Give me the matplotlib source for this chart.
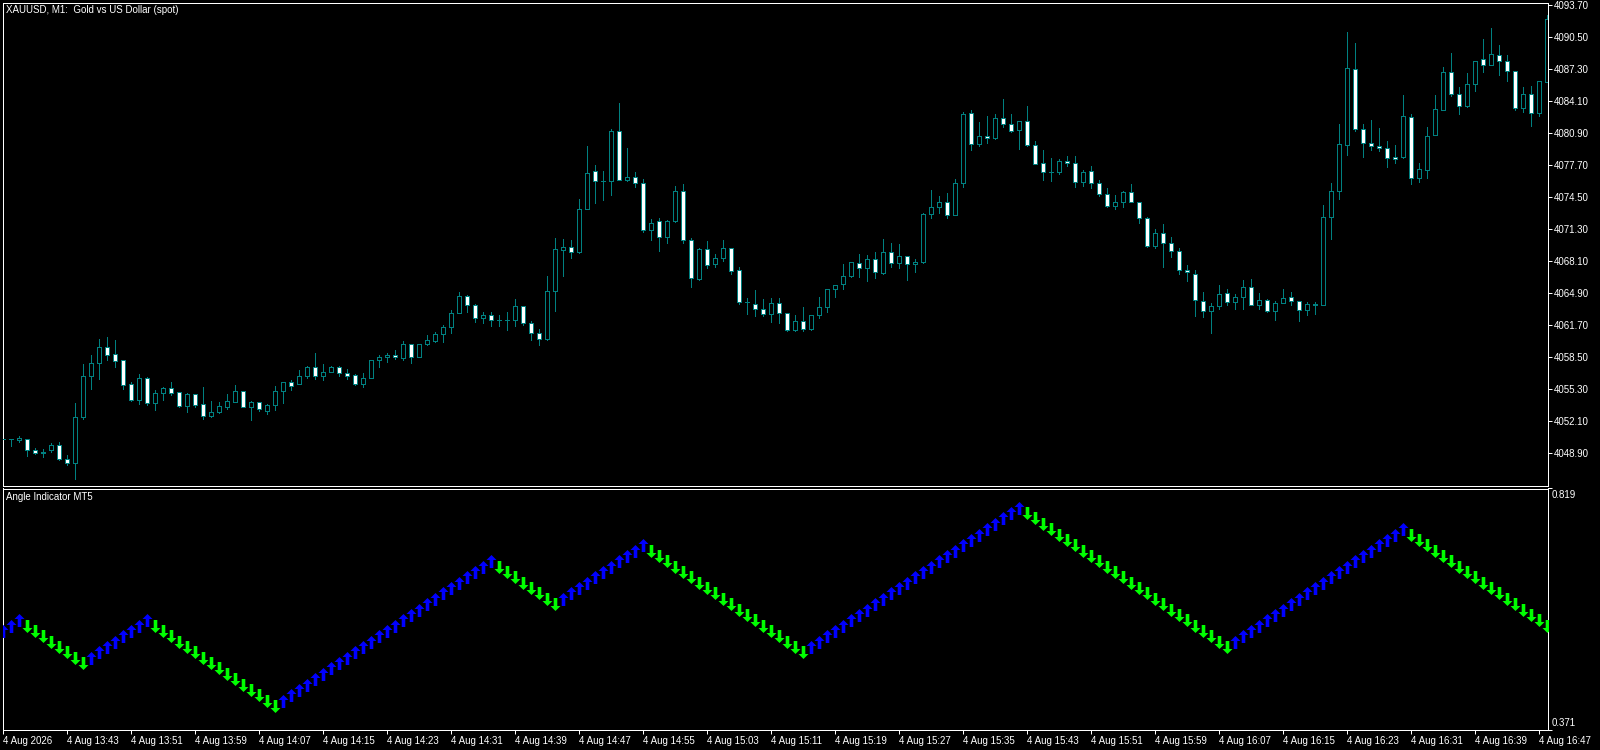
import matplotlib
matplotlib.use("Agg")
import matplotlib.pyplot as plt
from matplotlib.path import Path
from matplotlib.markers import MarkerStyle

plt.rcParams['font.family'] = ['Liberation Sans', 'DejaVu Sans']

# ---------------- data ----------------
title_text = "XAUUSD, M1:  Gold vs US Dollar (spot)"
indicator_name = "Angle Indicator MT5"

opens = [4050.27, 4050.27, 4050.25, 4050.27, 4049.17, 4049.03, 4049.17, 4049.67, 4048.27, 4047.93,
         4052.47, 4056.57, 4057.87, 4059.50, 4058.80, 4058.17, 4055.77, 4054.23, 4056.37, 4053.93,
         4054.93, 4055.37, 4054.97, 4053.63, 4054.77, 4053.77, 4052.63, 4052.97, 4053.53, 4054.03,
         4055.07, 4053.47, 4053.97, 4053.13, 4053.67, 4055.07, 4055.97, 4055.77, 4056.57, 4057.47,
         4056.57, 4057.03, 4057.47, 4056.87, 4056.67, 4055.77, 4056.37, 4058.17, 4058.47, 4058.67,
         4058.43, 4059.77, 4058.53, 4059.77, 4060.13, 4060.77, 4061.47, 4062.87, 4064.57, 4063.67,
         4062.37, 4062.67, 4062.17, 4062.17, 4062.17, 4063.57, 4061.87, 4060.87, 4060.27, 4065.07,
         4069.17, 4069.47, 4068.97, 4073.27, 4077.07, 4076.07, 4076.07, 4081.07, 4076.17, 4076.47,
         4075.87, 4071.17, 4072.07, 4070.47, 4072.07, 4075.07, 4070.17, 4066.27, 4069.27, 4067.77,
         4068.37, 4069.37, 4067.17, 4063.97, 4063.77, 4063.27, 4062.77, 4063.87, 4062.87, 4061.17,
         4062.07, 4061.27, 4062.67, 4063.47, 4065.27, 4065.77, 4066.57, 4067.87, 4067.37, 4068.27,
         4066.87, 4068.97, 4067.87, 4068.57, 4067.77, 4067.97, 4072.77, 4073.47, 4073.97, 4072.67,
         4075.87, 4082.87, 4079.77, 4080.57, 4080.37, 4082.37, 4081.77, 4081.17, 4082.07, 4079.67,
         4077.87, 4076.97, 4076.97, 4078.07, 4077.87, 4075.97, 4077.07, 4075.87, 4074.77, 4073.57,
         4073.97, 4074.97, 4073.97, 4072.37, 4069.57, 4070.87, 4069.87, 4069.07, 4067.17, 4066.77,
         4064.07, 4063.07, 4063.57, 4064.87, 4063.97, 4064.47, 4065.47, 4063.67, 4064.17, 4063.07,
         4063.87, 4064.47, 4064.07, 4063.17, 4063.77, 4063.67, 4072.47, 4075.07, 4079.67, 4087.27,
         4081.27, 4079.87, 4079.57, 4079.37, 4078.47, 4078.47, 4082.47, 4076.37, 4077.17, 4080.67,
         4083.17, 4086.97, 4084.77, 4083.57, 4085.77, 4088.27, 4087.67, 4088.67, 4088.07, 4087.07,
         4083.37, 4084.77, 4082.87, 4085.97]

highs = [4050.27, 4050.27, 4050.60, 4050.27, 4049.37, 4049.30, 4049.87, 4049.97, 4048.67, 4053.87,
         4057.80, 4058.70, 4060.30, 4060.50, 4060.20, 4058.17, 4056.00, 4056.80, 4056.47, 4055.20,
         4055.47, 4056.00, 4054.97, 4054.87, 4054.77, 4055.50, 4054.10, 4053.97, 4054.77, 4055.67,
         4055.07, 4054.07, 4053.97, 4053.80, 4055.60, 4055.97, 4056.17, 4057.20, 4057.57, 4058.90,
         4057.80, 4057.60, 4057.57, 4057.27, 4056.80, 4056.87, 4058.17, 4058.70, 4058.87, 4059.20,
         4060.10, 4059.77, 4059.77, 4060.67, 4060.97, 4061.67, 4063.17, 4065.00, 4064.67, 4063.77,
         4062.97, 4062.97, 4062.67, 4062.97, 4064.27, 4063.57, 4062.07, 4061.27, 4066.57, 4070.37,
         4070.27, 4070.17, 4074.27, 4079.57, 4077.67, 4077.07, 4081.27, 4083.87, 4079.37, 4076.97,
         4076.27, 4072.27, 4072.37, 4072.17, 4075.57, 4075.77, 4070.37, 4069.37, 4070.07, 4068.77,
         4070.17, 4069.37, 4067.47, 4064.37, 4065.17, 4064.27, 4064.37, 4064.37, 4062.87, 4062.67,
         4063.47, 4062.67, 4064.47, 4065.27, 4065.67, 4067.80, 4067.97, 4068.83, 4068.67, 4068.97,
         4070.27, 4069.87, 4069.77, 4068.60, 4068.27, 4072.87, 4075.17, 4074.57, 4074.87, 4076.27,
         4082.97, 4083.17, 4081.97, 4082.57, 4082.77, 4084.27, 4082.77, 4082.07, 4083.57, 4080.07,
         4079.17, 4078.37, 4078.27, 4078.57, 4078.57, 4077.17, 4077.57, 4076.17, 4075.37, 4074.67,
         4075.07, 4075.77, 4073.97, 4072.47, 4071.27, 4071.77, 4070.47, 4069.37, 4067.67, 4067.17,
         4064.97, 4063.87, 4065.67, 4065.27, 4064.77, 4066.17, 4066.27, 4064.87, 4064.27, 4064.07,
         4065.27, 4064.97, 4064.07, 4063.97, 4063.97, 4073.67, 4075.87, 4081.77, 4090.97, 4089.87,
         4081.77, 4082.17, 4081.37, 4080.07, 4079.67, 4084.67, 4082.77, 4077.87, 4081.47, 4084.67,
         4087.47, 4088.87, 4085.47, 4086.87, 4088.07, 4090.27, 4091.37, 4089.67, 4088.67, 4087.07,
         4085.47, 4085.57, 4086.07, 4092.70]

lows = [4050.27, 4049.63, 4050.03, 4048.63, 4048.80, 4048.53, 4048.97, 4048.17, 4047.73, 4046.30,
        4052.27, 4055.27, 4056.33, 4058.20, 4057.53, 4055.33, 4054.13, 4053.83, 4053.73, 4053.20,
        4054.23, 4054.73, 4053.53, 4053.03, 4053.47, 4052.33, 4052.50, 4052.93, 4053.33, 4054.03,
        4053.47, 4052.23, 4053.07, 4052.83, 4053.23, 4053.93, 4055.20, 4055.77, 4056.37, 4056.27,
        4056.17, 4056.97, 4056.63, 4056.27, 4055.67, 4055.47, 4056.37, 4057.53, 4057.97, 4058.27,
        4058.23, 4057.93, 4058.47, 4059.70, 4060.03, 4059.97, 4060.93, 4062.87, 4063.03, 4061.97,
        4061.87, 4061.57, 4061.57, 4061.17, 4061.57, 4061.67, 4060.17, 4059.67, 4060.17, 4063.07,
        4066.57, 4068.37, 4068.87, 4073.27, 4073.87, 4074.17, 4074.67, 4076.17, 4076.07, 4075.47,
        4070.97, 4070.17, 4069.13, 4069.93, 4071.97, 4069.87, 4065.47, 4066.17, 4067.37, 4067.47,
        4068.07, 4066.77, 4063.77, 4062.77, 4062.57, 4062.57, 4061.97, 4061.87, 4061.07, 4061.07,
        4061.07, 4061.20, 4062.37, 4063.03, 4064.47, 4065.27, 4066.47, 4066.47, 4066.07, 4066.37,
        4066.77, 4067.47, 4067.37, 4066.23, 4066.97, 4067.87, 4072.37, 4072.87, 4072.37, 4072.67,
        4075.47, 4079.17, 4079.57, 4079.87, 4080.27, 4081.47, 4080.97, 4079.27, 4079.57, 4077.77,
        4076.17, 4076.07, 4076.77, 4077.57, 4075.47, 4075.57, 4075.37, 4074.57, 4073.47, 4073.27,
        4073.47, 4073.97, 4071.87, 4069.47, 4069.37, 4067.47, 4068.47, 4066.77, 4066.07, 4062.57,
        4062.47, 4060.87, 4063.27, 4063.67, 4063.33, 4063.27, 4063.67, 4063.27, 4062.97, 4062.17,
        4063.87, 4063.67, 4062.07, 4062.67, 4062.77, 4063.67, 4070.27, 4074.27, 4078.67, 4081.07,
        4078.47, 4079.17, 4079.07, 4077.47, 4077.87, 4078.37, 4075.77, 4075.97, 4076.37, 4080.67,
        4083.17, 4084.57, 4082.77, 4083.47, 4085.07, 4086.97, 4087.67, 4086.67, 4086.07, 4083.17,
        4082.97, 4081.57, 4082.57, 4085.97]

closes = [4050.27, 4050.27, 4050.40, 4049.17, 4048.93, 4048.93, 4049.67, 4048.27, 4047.93, 4052.47,
          4056.57, 4057.90, 4059.50, 4058.73, 4058.13, 4055.73, 4054.23, 4056.37, 4053.93, 4054.87,
          4055.37, 4054.93, 4053.63, 4054.77, 4053.73, 4052.63, 4052.97, 4053.57, 4054.07, 4055.07,
          4053.47, 4053.97, 4053.27, 4053.67, 4055.07, 4055.97, 4055.63, 4056.57, 4057.47, 4056.57,
          4056.97, 4057.47, 4056.87, 4056.63, 4055.77, 4056.37, 4058.17, 4058.47, 4058.67, 4058.47,
          4059.77, 4058.53, 4059.77, 4060.17, 4060.77, 4061.47, 4062.87, 4064.57, 4063.67, 4062.37,
          4062.67, 4062.17, 4062.17, 4062.17, 4063.57, 4061.87, 4060.87, 4060.27, 4065.07, 4069.27,
          4069.47, 4068.97, 4073.27, 4076.87, 4076.07, 4076.07, 4081.07, 4076.17, 4076.47, 4075.87,
          4071.17, 4071.87, 4070.47, 4072.07, 4075.07, 4070.17, 4066.37, 4069.27, 4067.67, 4068.37,
          4069.37, 4067.07, 4063.97, 4063.97, 4063.27, 4062.77, 4063.87, 4062.87, 4061.17, 4062.07,
          4061.27, 4062.67, 4063.47, 4065.27, 4065.67, 4066.57, 4067.97, 4067.37, 4068.27, 4066.97,
          4068.97, 4067.87, 4068.57, 4067.77, 4067.97, 4072.77, 4073.47, 4073.97, 4072.67, 4075.87,
          4082.77, 4079.77, 4080.57, 4080.37, 4082.37, 4081.77, 4081.07, 4082.07, 4079.67, 4077.77,
          4076.97, 4076.97, 4078.07, 4077.87, 4075.97, 4076.97, 4075.87, 4074.77, 4073.57, 4073.97,
          4074.97, 4073.97, 4072.37, 4069.57, 4070.87, 4069.87, 4069.07, 4067.17, 4066.97, 4064.17,
          4063.07, 4063.57, 4064.77, 4063.97, 4064.47, 4065.47, 4063.67, 4064.17, 4063.07, 4063.87,
          4064.37, 4064.07, 4063.17, 4063.77, 4063.73, 4072.47, 4075.07, 4079.77, 4087.37, 4081.27,
          4079.87, 4079.57, 4079.37, 4078.37, 4078.27, 4082.57, 4076.37, 4077.27, 4080.57, 4083.27,
          4086.97, 4084.77, 4083.57, 4085.77, 4088.07, 4087.67, 4088.77, 4088.07, 4087.07, 4083.37,
          4084.77, 4082.87, 4086.07, 4092.27]

angle_values = [0.554, 0.564, 0.574, 0.564, 0.554, 0.544, 0.534, 0.524, 0.514, 0.504,
                0.494, 0.504, 0.514, 0.524, 0.534, 0.544, 0.554, 0.564, 0.574, 0.564,
                0.554, 0.544, 0.534, 0.524, 0.514, 0.504, 0.494, 0.484, 0.474, 0.464,
                0.454, 0.444, 0.434, 0.424, 0.414, 0.424, 0.434, 0.444, 0.454, 0.464,
                0.474, 0.484, 0.494, 0.504, 0.514, 0.524, 0.534, 0.544, 0.554, 0.564,
                0.574, 0.584, 0.594, 0.604, 0.614, 0.624, 0.634, 0.644, 0.654, 0.664,
                0.674, 0.684, 0.674, 0.664, 0.654, 0.644, 0.634, 0.624, 0.614, 0.604,
                0.614, 0.624, 0.634, 0.644, 0.654, 0.664, 0.674, 0.684, 0.694, 0.704,
                0.714, 0.704, 0.694, 0.684, 0.674, 0.664, 0.654, 0.644, 0.634, 0.624,
                0.614, 0.604, 0.594, 0.584, 0.574, 0.564, 0.554, 0.544, 0.534, 0.524,
                0.514, 0.524, 0.534, 0.544, 0.554, 0.564, 0.574, 0.584, 0.594, 0.604,
                0.614, 0.624, 0.634, 0.644, 0.654, 0.664, 0.674, 0.684, 0.694, 0.704,
                0.714, 0.724, 0.734, 0.744, 0.754, 0.764, 0.774, 0.784, 0.774, 0.764,
                0.754, 0.744, 0.734, 0.724, 0.714, 0.704, 0.694, 0.684, 0.674, 0.664,
                0.654, 0.644, 0.634, 0.624, 0.614, 0.604, 0.594, 0.584, 0.574, 0.564,
                0.554, 0.544, 0.534, 0.524, 0.534, 0.544, 0.554, 0.564, 0.574, 0.584,
                0.594, 0.604, 0.614, 0.624, 0.634, 0.644, 0.654, 0.664, 0.674, 0.684,
                0.694, 0.704, 0.714, 0.724, 0.734, 0.744, 0.734, 0.724, 0.714, 0.704,
                0.694, 0.684, 0.674, 0.664, 0.654, 0.644, 0.634, 0.624, 0.614, 0.604,
                0.594, 0.584, 0.574, 0.564]

price_ticks = [4093.70, 4090.50, 4087.30, 4084.10, 4080.90, 4077.70, 4074.50, 4071.30,
               4068.10, 4064.90, 4061.70, 4058.50, 4055.30, 4052.10, 4048.90]
time_labels = ["4 Aug 2026", "4 Aug 13:43", "4 Aug 13:51", "4 Aug 13:59", "4 Aug 14:07",
               "4 Aug 14:15", "4 Aug 14:23", "4 Aug 14:31", "4 Aug 14:39", "4 Aug 14:47",
               "4 Aug 14:55", "4 Aug 15:03", "4 Aug 15:11", "4 Aug 15:19", "4 Aug 15:27",
               "4 Aug 15:35", "4 Aug 15:43", "4 Aug 15:51", "4 Aug 15:59", "4 Aug 16:07",
               "4 Aug 16:15", "4 Aug 16:23", "4 Aug 16:31", "4 Aug 16:39", "4 Aug 16:47"]
time_label_bars = [0, 8, 16, 24, 32, 40, 48, 56, 64, 72, 80, 88, 96, 104, 112, 120,
                   128, 136, 144, 152, 160, 168, 176, 184, 192]
ind_max_label = "0.819"
ind_min_label = "0.371"

# ---------------- style ----------------
BG = "black"
FG = "white"
TEAL = "#008080"
BLUE = "#0000ff"
GREEN = "#00ff00"
FS = 7.0
PX = 72.0 / 100.0  # points per pixel

W, H = 1600, 750
fig = plt.figure(figsize=(W / 100, H / 100), dpi=100, facecolor=BG)

left_px, right_px = 2.5, 1547.5
main_top, main_bot = 2.5, 485.5
ind_top, ind_bot = 488.5, 729.5

def rect(t, b):
    return [left_px / W, 1 - b / H, (right_px - left_px) / W, (b - t) / H]

ax1 = fig.add_axes(rect(main_top, main_bot))
ax2 = fig.add_axes(rect(ind_top, ind_bot))

bar_px = 8.0
xlim = ((left_px - 3) / bar_px, (right_px - 3) / bar_px)

for ax in (ax1, ax2):
    ax.set_facecolor(BG)
    for s in ax.spines.values():
        s.set_color(FG)
        s.set_linewidth(1 * PX)
    ax.set_xlim(*xlim)

# ---------------- candles ----------------
n = len(opens)
xs = list(range(n))
ax1.vlines(xs, lows, highs, colors=TEAL, linewidth=1 * PX, antialiased=False, zorder=2)
for i in range(n):
    o, c = opens[i], closes[i]
    fill = BG if c >= o else FG
    ax1.bar(i, c - o, bottom=o, width=4.0 / bar_px, color=fill, edgecolor=TEAL,
            linewidth=1 * PX, antialiased=False, zorder=3)

ax1.set_ylim(4094.2 - main_bot / 10, 4094.2 - main_top / 10)
ax1.yaxis.tick_right()
ax1.set_yticks(price_ticks)
ax1.set_yticklabels(["%.2f" % p for p in price_ticks])
ax1.tick_params(axis='y', direction='out', length=4 * PX, width=1 * PX, colors=FG,
                labelsize=FS, pad=1.5)
ax1.set_xticks([])

# ---------------- indicator arrows ----------------
up_verts = [(0, 6.5), (5, 1.5), (1.8, 1.5), (1.8, -6.5), (-1.8, -6.5), (-1.8, 1.5), (-5, 1.5), (0, 6.5)]
codes = [Path.MOVETO] + [Path.LINETO] * 6 + [Path.CLOSEPOLY]
up_path = Path(up_verts, codes)
down_path = Path([(x, -y) for x, y in up_verts], codes)

ux, uy, dx, dy = [], [], [], []
for i, v in enumerate(angle_values):
    prev = angle_values[i - 1] if i > 0 else v - 1
    if v >= prev:
        ux.append(i); uy.append(v)
    else:
        dx.append(i); dy.append(v)

msize = (13 * PX) ** 2
ax2.scatter(ux, uy, marker=MarkerStyle(up_path), s=msize, c=BLUE, linewidths=0, zorder=3)
ax2.scatter(dx, dy, marker=MarkerStyle(down_path), s=msize, c=GREEN, linewidths=0, zorder=3)

ax2.set_ylim(0.3701, 0.820)
ax2.yaxis.tick_right()
ax2.set_yticks([0.3701, 0.820])
ax2.set_yticklabels(["", ""])
ax2.tick_params(axis='y', direction='out', length=4 * PX, width=1 * PX, colors=FG)
fig.text(1552 / W, 1 - 490 / H, ind_max_label, color=FG, fontsize=FS, ha='left', va='top')
fig.text(1552 / W, 1 - 727.5 / H, ind_min_label, color=FG, fontsize=FS, ha='left', va='bottom')

ax2.set_xticks(time_label_bars)
ax2.set_xticklabels(time_labels)
ax2.tick_params(axis='x', direction='out', length=3.5 * PX, width=1 * PX, colors=FG,
                labelsize=FS, pad=2)
for lbl in ax2.get_xticklabels():
    lbl.set_horizontalalignment('left')

# ---------------- titles ----------------
fig.text(6 / W, 1 - 10 / H, title_text, color=FG, fontsize=FS, ha='left', va='center')
fig.text(6 / W, 1 - 496.5 / H, indicator_name, color=FG, fontsize=FS, ha='left', va='center')

fig.savefig("out.png", dpi=100, facecolor=BG)
